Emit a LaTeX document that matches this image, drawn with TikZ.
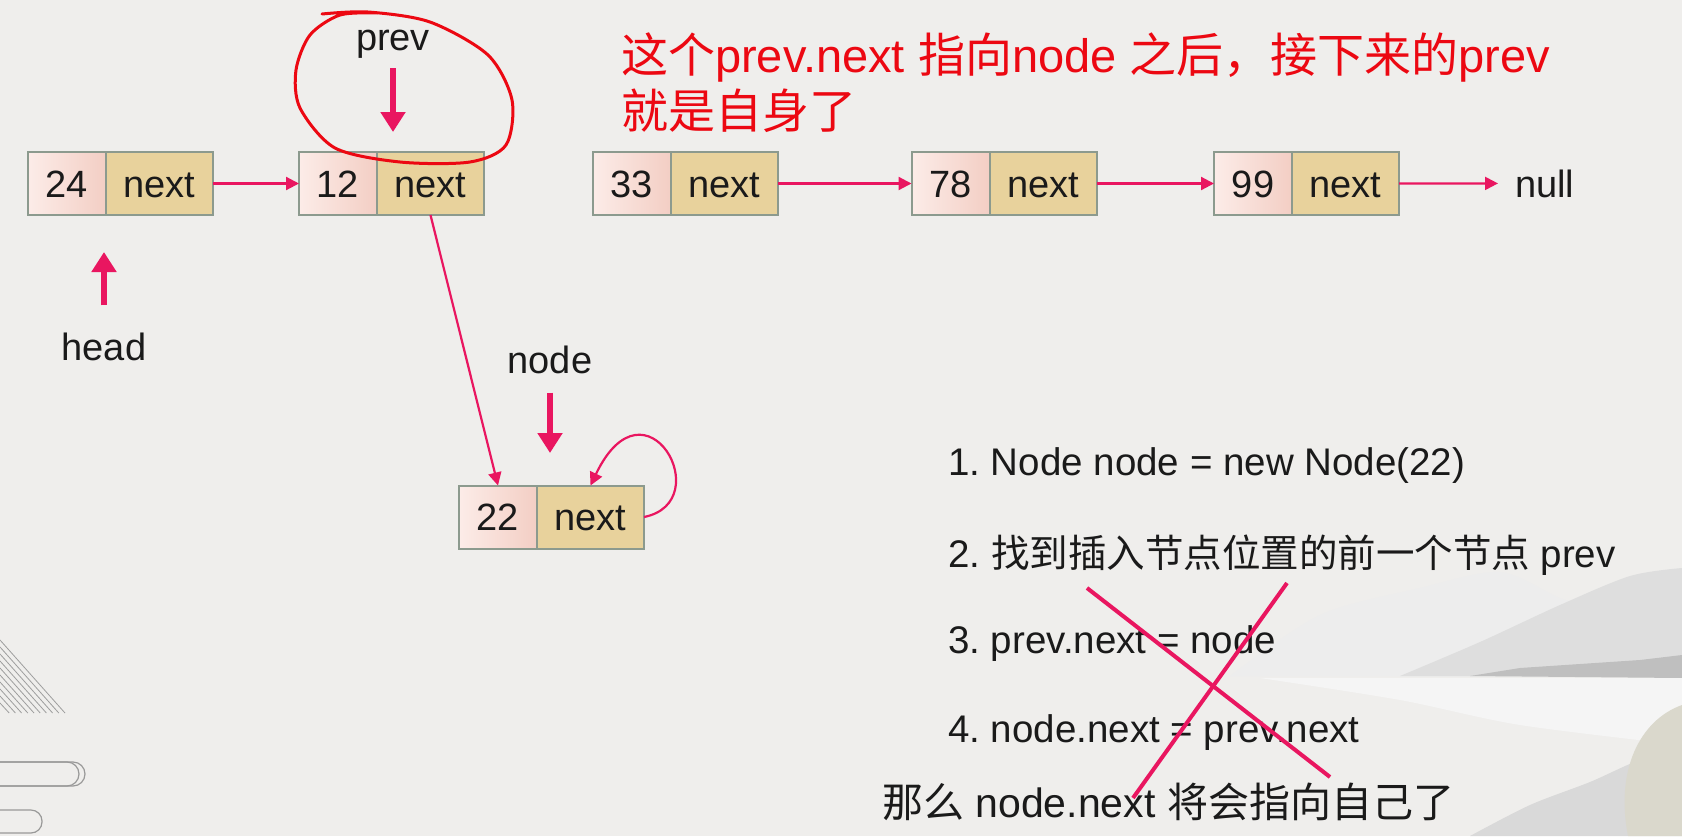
\documentclass[tikz,border=0pt]{standalone}
\usepackage{fontspec}
\setmainfont{Liberation Sans}
\newfontfamily\cjk{Noto Sans CJK SC}
\usepackage{xcolor}
\usepackage{tikz}
\usetikzlibrary{positioning, arrows.meta}
\frenchspacing

\definecolor{paper}{RGB}{239,238,236}
\definecolor{cellborder}{RGB}{140,154,142}
\definecolor{valleft}{RGB}{252,236,232}
\definecolor{valright}{RGB}{243,206,196}
\definecolor{nextfill}{RGB}{232,210,156}
\definecolor{linkpink}{RGB}{233,22,96}
\definecolor{markred}{RGB}{236,8,18}
\definecolor{inkgray}{RGB}{26,26,26}
\definecolor{rockbeige}{RGB}{218,216,204}

\begin{document}
\begin{tikzpicture}[x=1pt, y=-1pt,
        valcell/.style={draw=cellborder, line width=2pt, outer sep=0pt, inner sep=0pt,
            left color=valleft, right color=valright, minimum width=78pt, minimum height=63pt,
            font=\fontsize{38}{44}\selectfont, text=inkgray, text height=27pt, text depth=0pt},
        nextcell/.style={valcell, fill=nextfill, left color=nextfill, right color=nextfill, minimum width=107pt},
        link/.style={draw=linkpink, line width=2.2pt, -{Triangle[length=13pt, width=13pt]}},
        ptr/.style={draw=linkpink, line width=6.5pt, -{Triangle[length=20pt, width=24pt]}},
        tag/.style={font=\fontsize{38}{44}\selectfont, text=inkgray, inner sep=2pt},
        stepline/.style={font=\fontsize{38.5}{44}\selectfont, text=inkgray, inner sep=0pt},
        remark/.style={font=\fontsize{47}{56}\selectfont, text=markred, inner sep=0pt},
        cross/.style={draw=linkpink, line width=4pt}
    ]

    % 背景
    \useasboundingbox (0,0) rectangle (1682,836);
    \fill[paper] (0,0) rectangle (1682,836);
    \fill[black!7] plot[smooth] coordinates {(1230,676) (1320,615) (1420,588) (1500,572) (1560,598) (1610,612) (1682,640)} -- (1682,676) -- cycle;
    \fill[black!13] plot[smooth] coordinates {(1400,676) (1480,642) (1560,605) (1630,576) (1682,568)} -- (1682,676) -- cycle;
    \fill[black!25] (1470,676) -- (1520,668) -- (1580,664) -- (1640,660) -- (1682,655) -- (1682,678) -- cycle;
    \fill[black!4] plot[smooth] coordinates {(1260,678) (1400,700) (1520,725) (1682,745)} -- (1682,678) -- cycle;
    \fill[black!15] plot[smooth] coordinates {(1470,836) (1530,805) (1590,782) (1640,760) (1682,752)} -- (1682,836) -- cycle;
    \fill[rockbeige] (1628,836) .. controls (1615,770) and (1640,720) .. (1682,705) -- (1682,836) -- cycle;
    \foreach \k in {0,...,9}
        \draw[black!38, line width=0.8pt] (0,640+7*\k) -- (65-6.2*\k,713);
    \draw[black!40, line width=1.2pt, rounded corners=12pt] (-20,762) rectangle (85,786);
    \draw[black!40, line width=1.2pt, rounded corners=12pt] (-20,762) rectangle (79,786);
    \draw[black!40, line width=1.2pt, rounded corners=11pt] (-20,810) rectangle (42,833);

    % 链表结点
    \node[valcell] (v24) at (67,183.5) {24};
    \node[nextcell, right=0pt of v24] (n24) {next};
    \node[valcell] (v12) at (338,183.5) {12};
    \node[nextcell, right=0pt of v12] (n12) {next};
    \node[valcell] (v33) at (631.5,183.5) {33};
    \node[nextcell, right=0pt of v33] (n33) {next};
    \node[valcell] (v78) at (950.5,183.5) {78};
    \node[nextcell, right=0pt of v78] (n78) {next};
    \node[valcell] (v99) at (1253,183.5) {99};
    \node[nextcell, right=0pt of v99] (n99) {next};
    \node[valcell] (v22) at (498,517) {22};
    \node[nextcell, right=0pt of v22] (n22) {next};
    \node[tag, anchor=base west, inner sep=0pt, inner xsep=17pt] (null) at (1498,197) {null};

    % 指针
    \node[tag, anchor=base] (prev) at (393,50) {prev};
    \node[tag, anchor=base] (head) at (104,360) {head};
    \node[tag, anchor=base] (node) at (550,373) {node};
    \coordinate (prevtip) at (393,132);
    \coordinate (headtip) at (104,252);
    \coordinate (nodetip) at (550,453);
    \draw[ptr, shorten <=8pt] (prev.south) -- (prevtip);
    \draw[ptr, shorten <=25pt] (head.north) -- (headtip);
    \draw[ptr, shorten <=17pt] (node.south) -- (nodetip);

    % 指向
    \draw[link] (n24.east) -- (v12.west);
    \draw[link] (n33.east) -- (v78.west);
    \draw[link] (n78.east) -- (v99.west);
    \draw[link] (n99.east) -- (null.west);
    \draw[link] (n12.south) -- (v22.north);
    \draw[link] (n22.east) .. controls +(75,-15) and +(55,-115) .. (n22.north);

    % 手画的圈
    \draw[markred, line width=3pt, line cap=round] plot[smooth] coordinates {(322,14) (368,12) (430,22) (488,55) (512,100) (506,145) (470,162) (400,162) (335,148) (300,108) (296,70) (310,35) (340,15) (378,13)};

    % 说明
    \node[remark, anchor=base west] (note1) at (621,72) {{\cjk 这个}prev.next {\cjk 指向}node {\cjk 之后，接下来的}prev};
    \node[remark, anchor=base west] (note2) at (621,128) {{\cjk 就是自身了}};

    % 步骤
    \node[stepline, anchor=base west] (s1) at (948,475) {1. Node node = new Node(22)};
    \node[stepline, anchor=base west] (s2) at (948,567) {2. {\cjk 找到插入节点位置的前一个节点} prev};
    \node[stepline, anchor=base west] (s3) at (948,653) {3. prev.next = node};
    \node[stepline, anchor=base west] (s4) at (948,742) {4. node.next = prev.next};
    \node[stepline, anchor=base west, font=\fontsize{41}{46}\selectfont] (s5) at (882,817) {{\cjk 那么} node.next {\cjk 将会指向自己了}};

    % 叉
    \draw[cross] (1087,588) -- (1330,777);
    \draw[cross] (1287,583) -- (1133,798);

\end{tikzpicture}
\end{document}
